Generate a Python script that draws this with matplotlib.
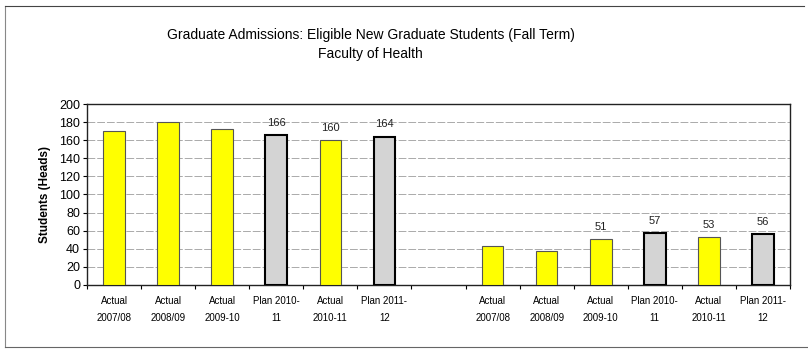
import matplotlib
matplotlib.use("Agg")
import matplotlib.pyplot as plt
from matplotlib.lines import Line2D
import numpy as np

plt.rcParams['font.family'] = ['Liberation Sans', 'DejaVu Sans']

categories = ["Actual\n2007/08", "Actual\n2008/09", "Actual\n2009-10", "Plan 2010-\n11",
              "Actual\n2010-11", "Plan 2011-\n12", "",
              "Actual\n2007/08", "Actual\n2008/09", "Actual\n2009-10", "Plan 2010-\n11",
              "Actual\n2010-11", "Plan 2011-\n12"]
values = [170, 180, 172, 166, 160, 164, None, 43, 38, 51, 57, 53, 56]
kinds = ["actual", "actual", "actual", "plan", "actual", "plan", None,
         "actual", "actual", "actual", "plan", "actual", "plan"]
shown_labels = [None, None, None, 166, 160, 164, None, None, None, 51, 57, 53, 56]
yticks = list(range(0, 201, 20))

fig = plt.figure(figsize=(8.08, 3.49), dpi=100)
ax = fig.add_axes([0.1077, 0.1834, 0.8700, 0.5186])

x = np.arange(len(categories))
for xi, v, k, lab in zip(x, values, kinds, shown_labels):
    if v is None:
        continue
    if k == "actual":
        ax.bar(xi, v, width=0.4, color="#ffff00", edgecolor="#555555", linewidth=0.8, zorder=3)
    else:
        ax.bar(xi, v, width=0.4, color="#d4d4d4", edgecolor="#000000", linewidth=1.5, zorder=3)
    if lab is not None:
        ax.text(xi, v + 8, str(lab), ha="center", va="bottom", fontsize=8, color="#222222")

ax.set_xlim(-0.5, len(categories) - 0.5)
ax.set_ylim(0, 200)
ax.set_yticks(yticks)
ax.tick_params(axis="y", labelsize=9, length=3, width=0.8, pad=2)
ax.yaxis.grid(True, color="#aaaaaa", linewidth=0.7, linestyle=(0, (8, 2)), zorder=0)
ax.set_axisbelow(True)

ax.set_xticks(np.arange(-0.5, len(categories), 1.0))
ax.set_xticklabels([])
ax.tick_params(axis="x", which="major", length=3, width=0.8)
ax.set_xticks(x, minor=True)
ax.set_xticklabels(categories, minor=True, fontsize=7, linespacing=1.8)
ax.tick_params(axis="x", which="minor", length=0, pad=8)

for s in ax.spines.values():
    s.set_linewidth(1.0)
    s.set_color("#222222")

ax.set_ylabel("Students (Heads)", fontsize=8.5, fontweight="bold", labelpad=6)

fig.text(0.459, 0.90, "Graduate Admissions: Eligible New Graduate Students (Fall Term)",
         ha="center", va="center", fontsize=10)
fig.text(0.459, 0.845, "Faculty of Health", ha="center", va="center", fontsize=10)

# outer chart frame
fig.add_artist(Line2D([0.006, 0.006], [0.006, 0.983], color="#888888", linewidth=0.8))
fig.add_artist(Line2D([0.006, 0.995], [0.983, 0.983], color="#444444", linewidth=0.8))
fig.add_artist(Line2D([0.006, 1.0], [0.006, 0.006], color="#666666", linewidth=0.8))

fig.savefig("out.png", dpi=100)
